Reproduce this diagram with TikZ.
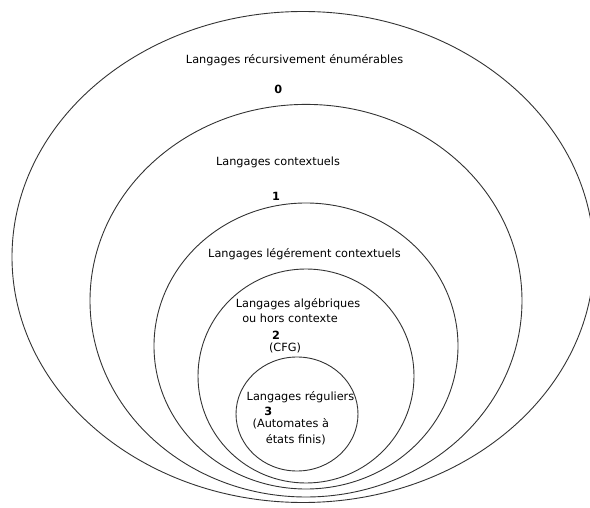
\documentclass[tikz,border=0pt]{standalone}
\usepackage{fontspec}
\setmainfont{DejaVu Sans}
\begin{document}
\begin{tikzpicture}[x=1pt,y=-1pt,
  ring/.style={draw=black!80,line width=0.9pt},
  txt/.style={font=\fontsize{11.3}{13}\selectfont,inner sep=0pt,anchor=base},
  lvl/.style={font=\fontsize{11.3}{13}\selectfont\bfseries,inner sep=0pt,anchor=base}]
\useasboundingbox (0,0) rectangle (590,508);

% Chomsky hierarchy, outermost class first
\draw[ring] (303,257)   ellipse [x radius=291pt, y radius=245.5pt];
\draw[ring] (306,300.7) ellipse [x radius=216pt, y radius=196.3pt];
\draw[ring] (306,346)   ellipse [x radius=152pt, y radius=143pt];
\draw[ring] (306,376)   ellipse [x radius=108pt, y radius=107pt];
\draw[ring] (297,414)   ellipse [x radius=61pt,  y radius=57pt];

% type 0
\node[txt] (t0)  at (294.6,64)  {Langages récursivement énumérables};
\node[lvl] (n0)  at (278.3,94)  {0};
% type 1
\node[txt] (t1)  at (278,166)   {Langages contextuels};
\node[lvl] (n1)  at (276,201)   {1};
% mildly context-sensitive
\node[txt] (tm)  at (304.5,257.5) {Langages légérement contextuels};
% type 2
\node[txt] (t2a) at (298,307.5) {Langages algébriques};
\node[txt] (t2b) at (290,323)   {ou hors contexte};
\node[lvl] (n2)  at (276,339)   {2};
\node[txt] (t2c) at (285,352)   {(CFG)};
% type 3
\node[txt] (t3a) at (300.5,400) {Langages réguliers};
\node[lvl] (n3)  at (268.3,415) {3};
\node[txt] (t3b) at (290.8,427.5) {(Automates à};
\node[txt] (t3c) at (295.8,443) {états finis)};
\end{tikzpicture}
\end{document}
